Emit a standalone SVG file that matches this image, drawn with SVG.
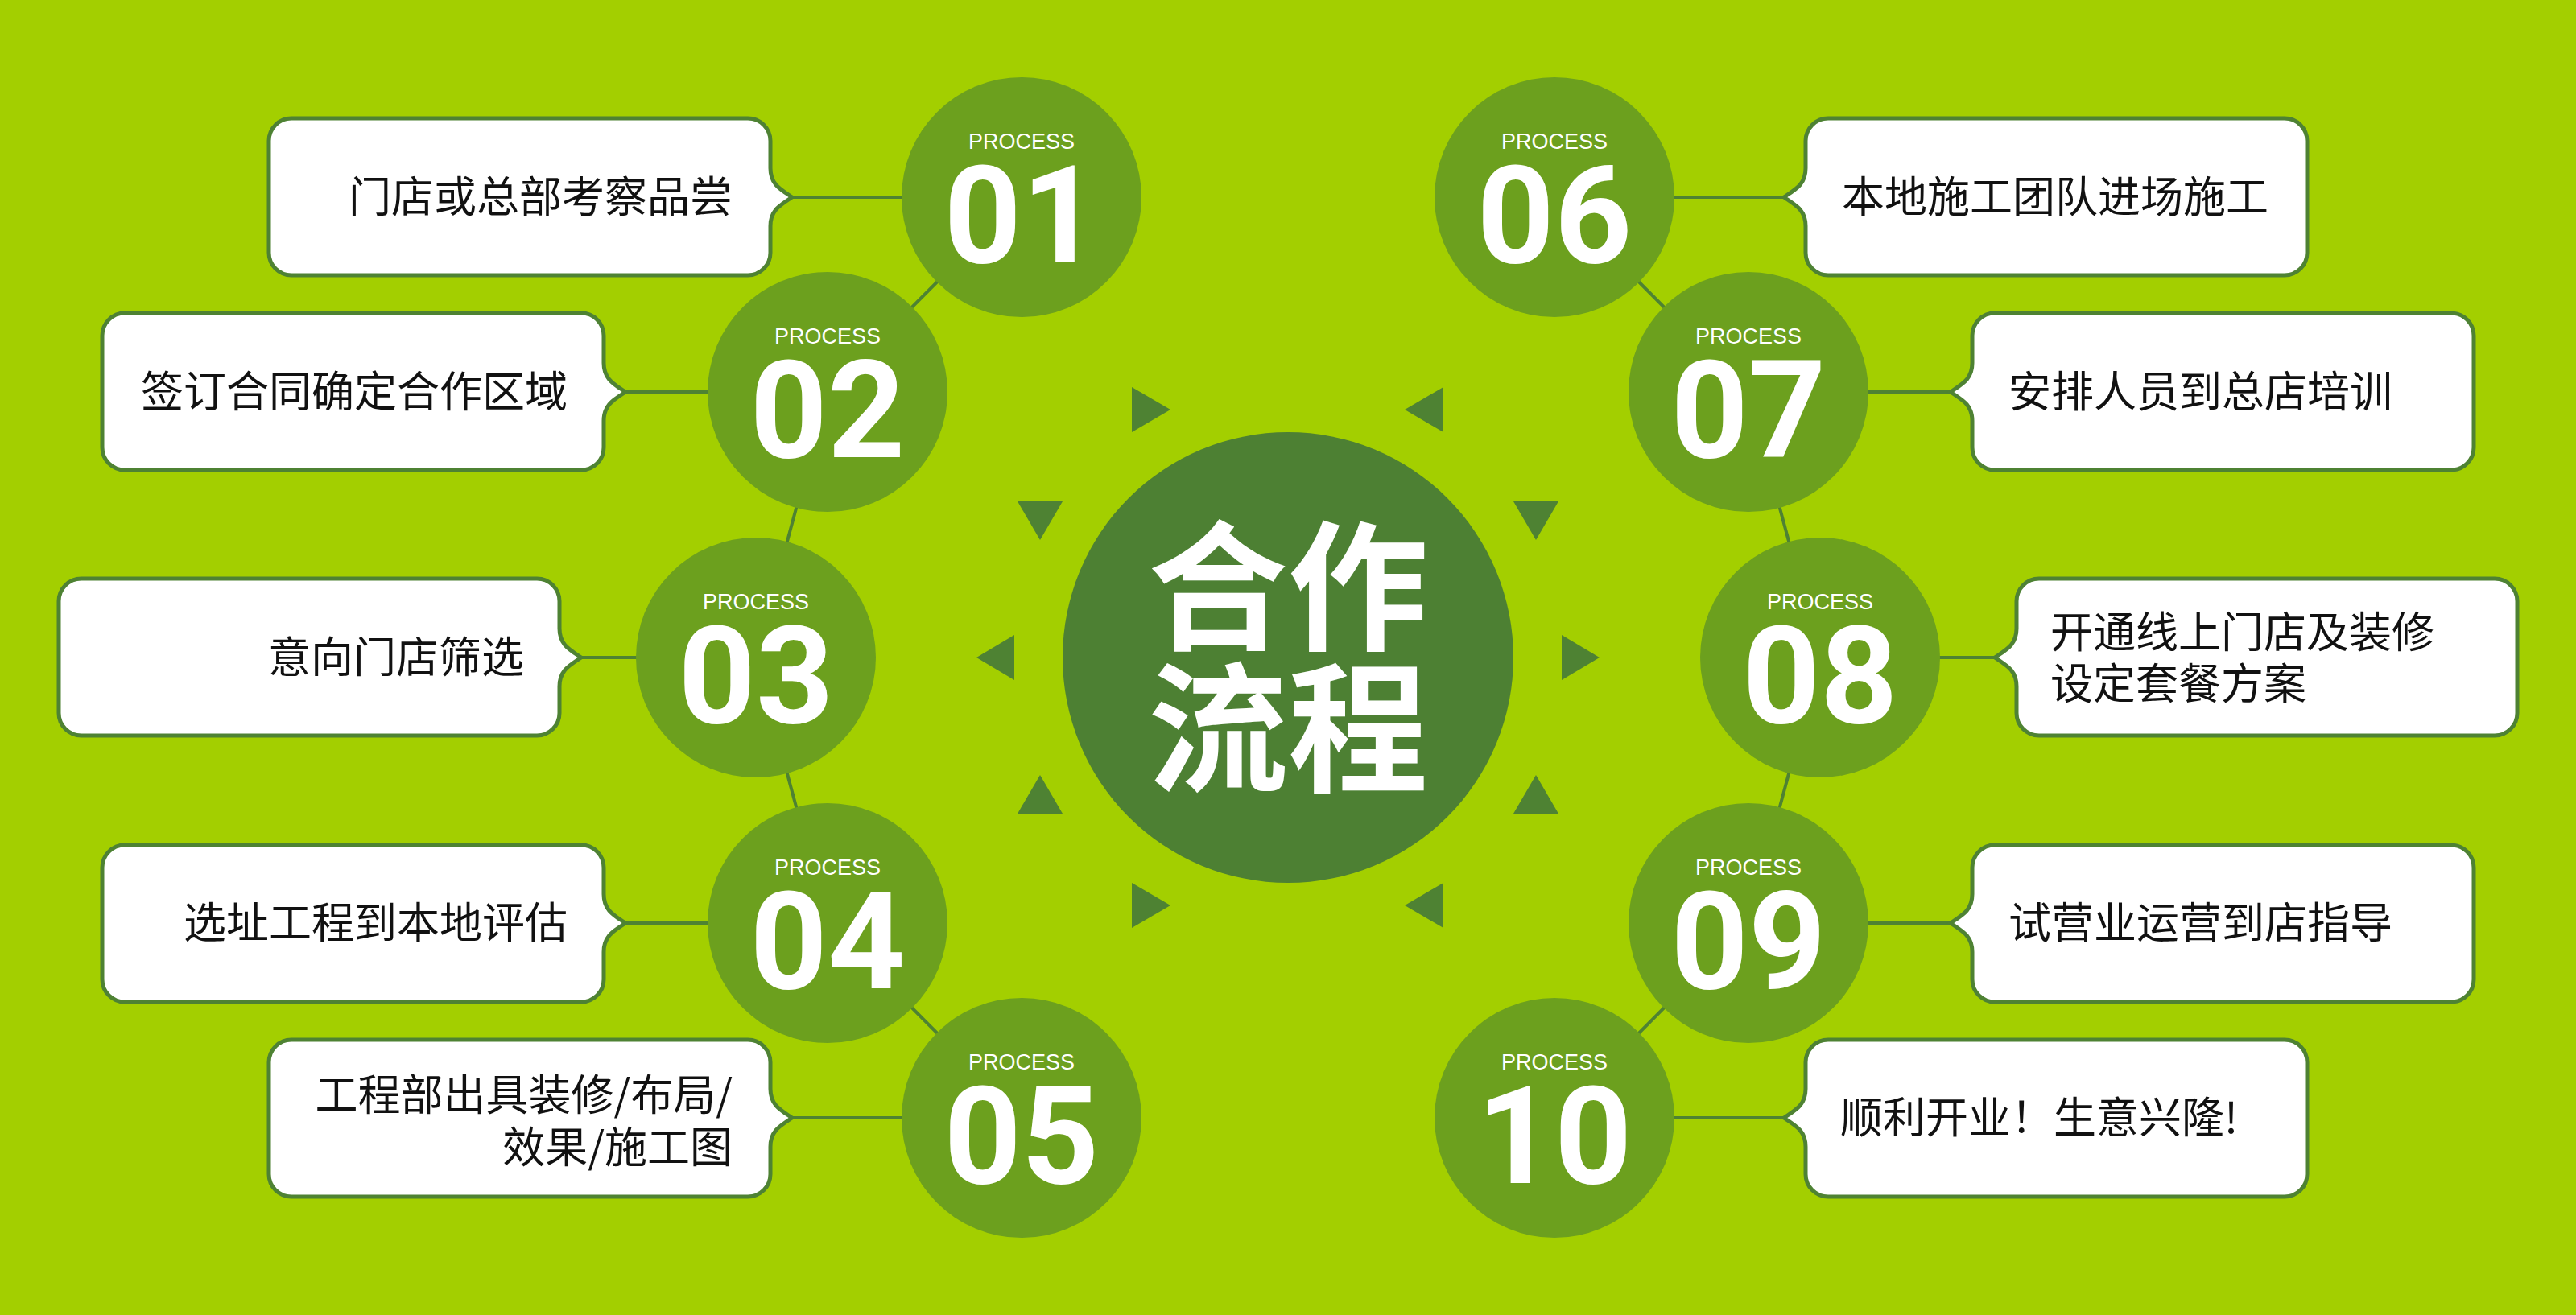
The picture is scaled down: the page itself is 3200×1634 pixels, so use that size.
<svg xmlns="http://www.w3.org/2000/svg" width="3200" height="1634" viewBox="0 0 3200 1634">
<style>
.box{fill:#ffffff;stroke:#4e8233;stroke-width:5}
.c{fill:#6ca01e}
.proc{font-family:"Liberation Sans",Arial,sans-serif;font-size:27px;fill:#ffffff;text-anchor:middle}
.num{font-family:Roboto,"Liberation Sans",sans-serif;font-weight:700;font-size:168px;fill:#ffffff;text-anchor:middle}
.t{font-family:"Noto Sans CJK SC","Noto Sans",sans-serif;font-size:53px;fill:#111111}
.tl{text-anchor:end}
.tri{fill:#4e8233}
.conn{stroke:#4e8233;stroke-width:4;fill:none}
.big{font-family:"Noto Sans CJK SC",sans-serif;font-weight:700;font-size:174px;fill:#ffffff;text-anchor:middle}
</style>
<rect width="3200" height="1634" fill="#a3cf00"/>
<g id="connectors">
<path class="conn" d="M984,245H1269M777,487H1028M722,817H939M777,1147H1028M984,1389H1269"/>
<path class="conn" d="M1931,245H2216M2172,487H2423M2261,817H2478M2172,1147H2423M1931,1389H2216"/>
<path class="conn" d="M1269,245L1028,487L939,817L1028,1147L1269,1389"/>
<path class="conn" d="M1931,245L2172,487L2261,817L2172,1147L1931,1389"/>
</g>
<g id="center">
<circle cx="1600" cy="817" r="280" fill="#4d8033"/>
<text class="big" x="1600" y="794">合作</text>
<text class="big" x="1600" y="970">流程</text>
</g>
<g id="triangles">
<polygon class="tri" points="1406,481 1406,537 1454,509"/>
<polygon class="tri" points="1793,481 1793,537 1745,509"/>
<polygon class="tri" points="1264,623 1320,623 1292,671"/>
<polygon class="tri" points="1880,623 1936,623 1908,671"/>
<polygon class="tri" points="1260,789 1260,845 1213,817"/>
<polygon class="tri" points="1940,789 1940,845 1987,817"/>
<polygon class="tri" points="1264,1011 1320,1011 1292,963"/>
<polygon class="tri" points="1880,1011 1936,1011 1908,963"/>
<polygon class="tri" points="1406,1097 1406,1153 1454,1125"/>
<polygon class="tri" points="1793,1097 1793,1153 1745,1125"/>
</g>
<g id="step01">
<path class="box" d="M362,147 H929 A28,28 0 0 1 957,175 V209 C957,229 969,235 984,245 C969,255 957,261 957,281 V314 A28,28 0 0 1 929,342 H362 A28,28 0 0 1 334,314 V175 A28,28 0 0 1 362,147 Z"/>
<text class="t tl" x="910" y="264">门店或总部考察品尝</text>
<circle class="c" cx="1269" cy="245" r="149"/>
<text class="proc" x="1269" y="185">PROCESS</text>
<text class="num" x="1269" y="326">01</text>
</g>
<g id="step02">
<path class="box" d="M155,389 H722 A28,28 0 0 1 750,417 V451 C750,471 762,477 777,487 C762,497 750,503 750,523 V556 A28,28 0 0 1 722,584 H155 A28,28 0 0 1 127,556 V417 A28,28 0 0 1 155,389 Z"/>
<text class="t tl" x="705" y="506">签订合同确定合作区域</text>
<circle class="c" cx="1028" cy="487" r="149"/>
<text class="proc" x="1028" y="427">PROCESS</text>
<text class="num" x="1028" y="568">02</text>
</g>
<g id="step03">
<path class="box" d="M101,719 H667 A28,28 0 0 1 695,747 V781 C695,801 707,807 722,817 C707,827 695,833 695,853 V886 A28,28 0 0 1 667,914 H101 A28,28 0 0 1 73,886 V747 A28,28 0 0 1 101,719 Z"/>
<text class="t tl" x="651" y="836">意向门店筛选</text>
<circle class="c" cx="939" cy="817" r="149"/>
<text class="proc" x="939" y="757">PROCESS</text>
<text class="num" x="939" y="898">03</text>
</g>
<g id="step04">
<path class="box" d="M155,1050 H722 A28,28 0 0 1 750,1078 V1111 C750,1131 762,1137 777,1147 C762,1157 750,1163 750,1183 V1217 A28,28 0 0 1 722,1245 H155 A28,28 0 0 1 127,1217 V1078 A28,28 0 0 1 155,1050 Z"/>
<text class="t tl" x="705" y="1166">选址工程到本地评估</text>
<circle class="c" cx="1028" cy="1147" r="149"/>
<text class="proc" x="1028" y="1087">PROCESS</text>
<text class="num" x="1028" y="1228">04</text>
</g>
<g id="step05">
<path class="box" d="M362,1292 H929 A28,28 0 0 1 957,1320 V1353 C957,1373 969,1379 984,1389 C969,1399 957,1405 957,1425 V1459 A28,28 0 0 1 929,1487 H362 A28,28 0 0 1 334,1459 V1320 A28,28 0 0 1 362,1292 Z"/>
<text class="t tl" x="910" y="1380">工程部出具装修/布局/</text>
<text class="t tl" x="910" y="1445">效果/施工图</text>
<circle class="c" cx="1269" cy="1389" r="149"/>
<text class="proc" x="1269" y="1329">PROCESS</text>
<text class="num" x="1269" y="1470">05</text>
</g>
<g id="step06">
<path class="box" d="M2271,147 H2838 A28,28 0 0 1 2866,175 V314 A28,28 0 0 1 2838,342 H2271 A28,28 0 0 1 2243,314 V281 C2243,261 2231,255 2216,245 C2231,235 2243,229 2243,209 V175 A28,28 0 0 1 2271,147 Z"/>
<text class="t" x="2288" y="264">本地施工团队进场施工</text>
<circle class="c" cx="1931" cy="245" r="149"/>
<text class="proc" x="1931" y="185">PROCESS</text>
<text class="num" x="1931" y="326">06</text>
</g>
<g id="step07">
<path class="box" d="M2478,389 H3045 A28,28 0 0 1 3073,417 V556 A28,28 0 0 1 3045,584 H2478 A28,28 0 0 1 2450,556 V523 C2450,503 2438,497 2423,487 C2438,477 2450,471 2450,451 V417 A28,28 0 0 1 2478,389 Z"/>
<text class="t" x="2495" y="506">安排人员到总店培训</text>
<circle class="c" cx="2172" cy="487" r="149"/>
<text class="proc" x="2172" y="427">PROCESS</text>
<text class="num" x="2172" y="568">07</text>
</g>
<g id="step08">
<path class="box" d="M2533,719 H3099 A28,28 0 0 1 3127,747 V886 A28,28 0 0 1 3099,914 H2533 A28,28 0 0 1 2505,886 V853 C2505,833 2493,827 2478,817 C2493,807 2505,801 2505,781 V747 A28,28 0 0 1 2533,719 Z"/>
<text class="t" x="2547" y="805">开通线上门店及装修</text>
<text class="t" x="2547" y="869">设定套餐方案</text>
<circle class="c" cx="2261" cy="817" r="149"/>
<text class="proc" x="2261" y="757">PROCESS</text>
<text class="num" x="2261" y="898">08</text>
</g>
<g id="step09">
<path class="box" d="M2478,1050 H3045 A28,28 0 0 1 3073,1078 V1217 A28,28 0 0 1 3045,1245 H2478 A28,28 0 0 1 2450,1217 V1183 C2450,1163 2438,1157 2423,1147 C2438,1137 2450,1131 2450,1111 V1078 A28,28 0 0 1 2478,1050 Z"/>
<text class="t" x="2495" y="1166">试营业运营到店指导</text>
<circle class="c" cx="2172" cy="1147" r="149"/>
<text class="proc" x="2172" y="1087">PROCESS</text>
<text class="num" x="2172" y="1228">09</text>
</g>
<g id="step10">
<path class="box" d="M2271,1292 H2838 A28,28 0 0 1 2866,1320 V1459 A28,28 0 0 1 2838,1487 H2271 A28,28 0 0 1 2243,1459 V1425 C2243,1405 2231,1399 2216,1389 C2231,1379 2243,1373 2243,1353 V1320 A28,28 0 0 1 2271,1292 Z"/>
<text class="t" x="2286" y="1408">顺利开业！生意兴隆!</text>
<circle class="c" cx="1931" cy="1389" r="149"/>
<text class="proc" x="1931" y="1329">PROCESS</text>
<text class="num" x="1931" y="1470">10</text>
</g>
</svg>
